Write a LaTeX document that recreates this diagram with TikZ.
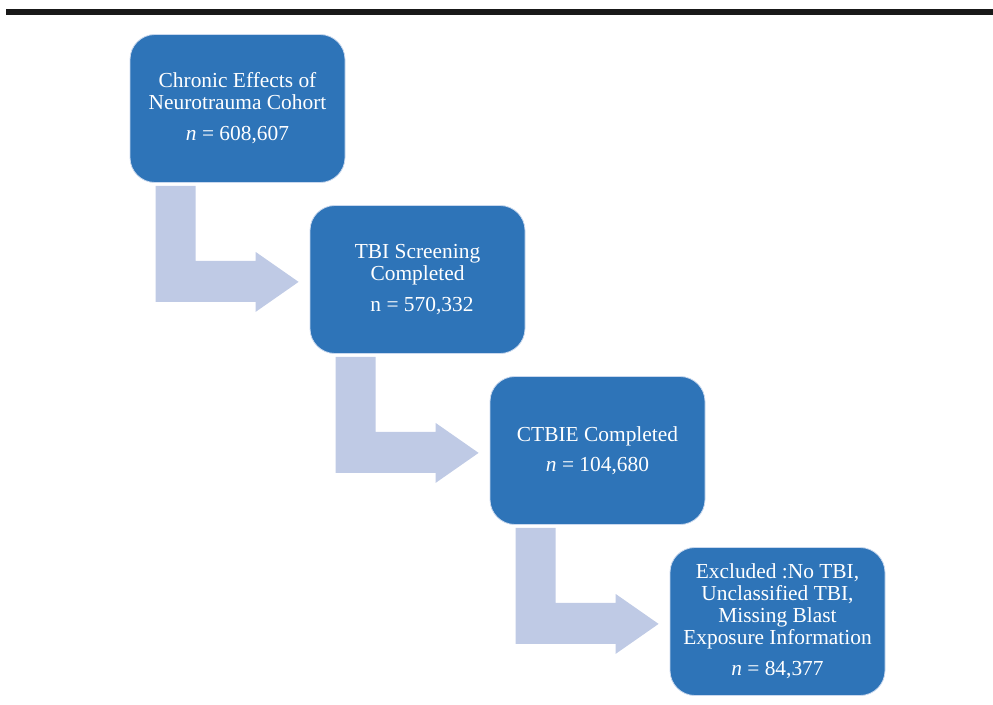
\documentclass[tikz,border=0pt]{standalone}
\usepackage{fontspec}
\setmainfont{Liberation Serif}
\definecolor{boxblue}{HTML}{2E74B8}
\definecolor{arrowblue}{HTML}{BFCAE5}
\definecolor{rimblue}{HTML}{C9D8EE}
\begin{document}
\begin{tikzpicture}[x=1pt,y=-1pt,
  stagebox/.style={draw=rimblue, line width=0.8pt, fill=boxblue, rounded corners=25pt,
    minimum width=215pt, minimum height=148pt, inner sep=0pt, text=white,
    align=center, font=\fontsize{21.4}{22}\selectfont},
  bentarrow/.style={fill=arrowblue, draw=none}]
\useasboundingbox (0,0) rectangle (993,704);
\fill[black!90] (6,9) rectangle (993,15);
\node[stagebox] (b1) at (237.5,108.5) {Chronic Effects of\\Neurotrauma Cohort\\[9pt]\textit{n} = 608,607};
\node[stagebox] (b2) at (417.5,279.5) {TBI Screening\\Completed\\[9pt]\hspace{9pt}n = 570,332};
\node[stagebox] (b3) at (597.5,450.5) {CTBIE Completed\\[8pt]\textit{n} = 104,680};
\node[stagebox] (b4) at (777.5,621.5) {Excluded :No TBI,\\Unclassified TBI,\\Missing Blast\\Exposure Information\\[9pt]\textit{n} = 84,377};
\foreach \a in {b1,b2,b3}{
  \fill[bentarrow] ([shift={(26,3)}]\a.south west) -- ([shift={(66,3)}]\a.south west)
    -- ([shift={(66,78)}]\a.south west) -- ([shift={(126,78)}]\a.south west)
    -- ([shift={(126,69)}]\a.south west) -- ([shift={(169,99)}]\a.south west)
    -- ([shift={(126,129)}]\a.south west) -- ([shift={(126,119)}]\a.south west)
    -- ([shift={(26,119)}]\a.south west) -- cycle;
}
\end{tikzpicture}
\end{document}
